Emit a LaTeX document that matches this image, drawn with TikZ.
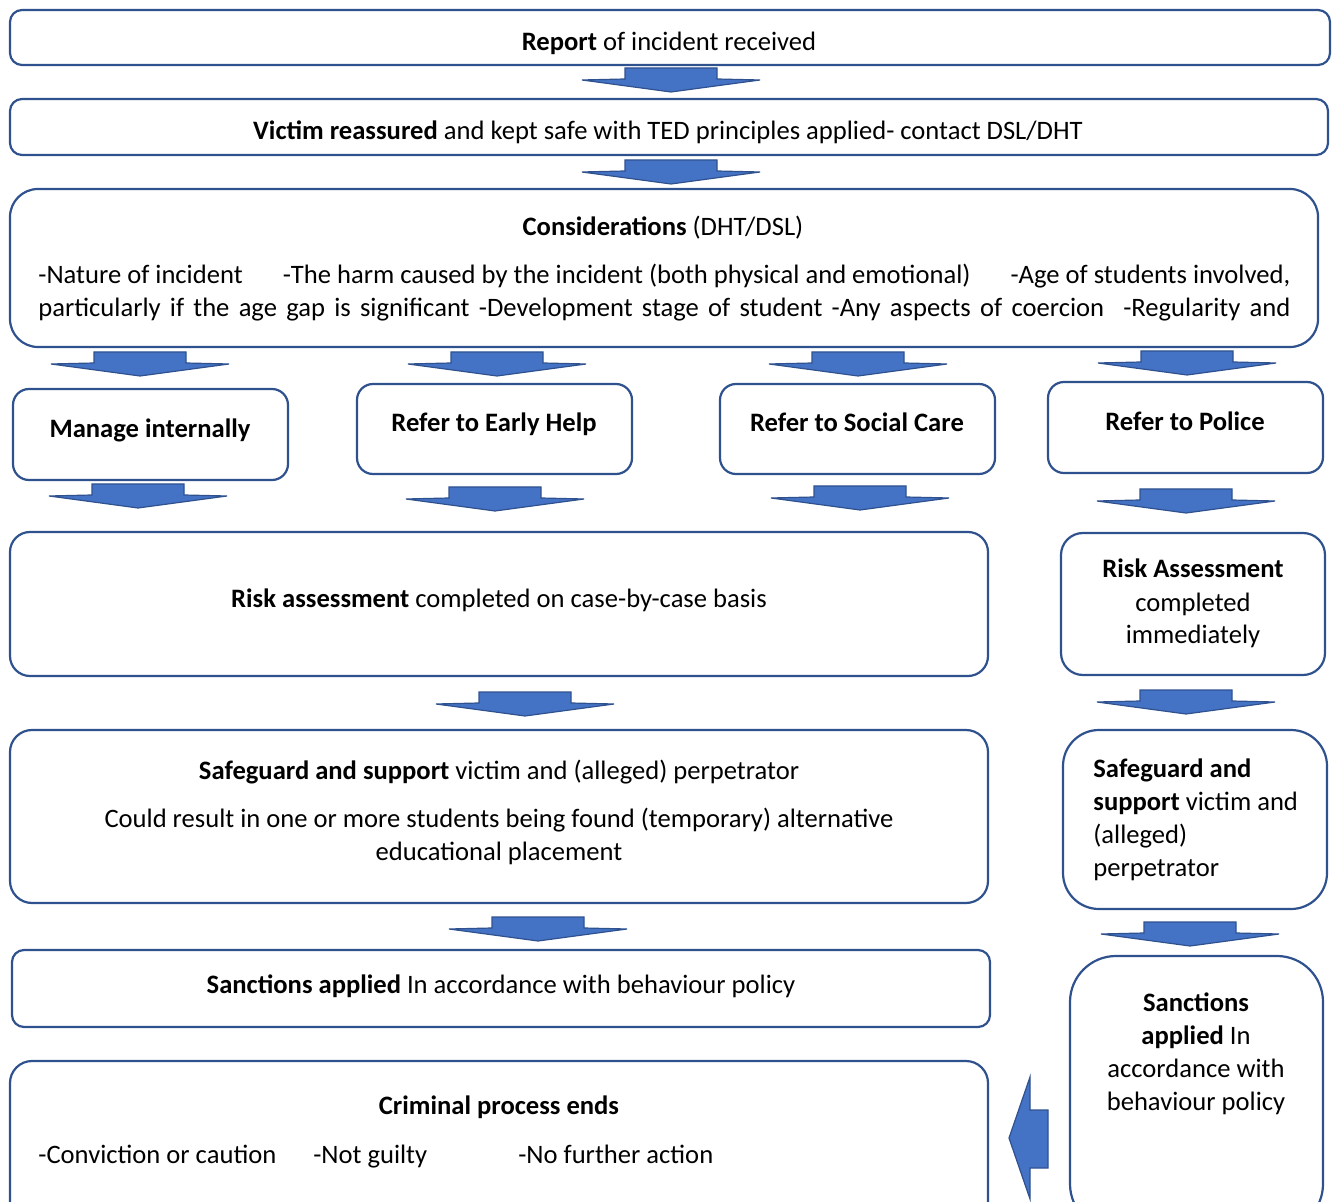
\documentclass[tikz,border=0pt]{standalone}
\usepackage{fontspec}
\setmainfont{Carlito}
\usepackage{xcolor}
\usetikzlibrary{fit}

\definecolor{boxline}{HTML}{2F528F}
\definecolor{arrowfill}{HTML}{4472C4}

\tikzset{
  box/.style={draw=boxline, line width=1.1pt, fill=white, inner sep=0pt},
  txt/.style={inner sep=0pt, font=\fontsize{13.3pt}{16.5pt}\selectfont},
  blockarrow/.style={draw=boxline, fill=arrowfill, line width=0.6pt, line join=miter}
}

% block arrow pointing down: centre x, top y (in pixels)
\newcommand{\blockdown}[2]{%
  \draw[blockarrow] ({#1-46},#2) -- ({#1+46},#2) -- ({#1+46},{#2+11}) -- ({#1+89},{#2+12})
    -- (#1,{#2+24}) -- ({#1-89},{#2+12}) -- ({#1-46},{#2+11}) -- cycle;}

\begin{document}
\begin{tikzpicture}[x=0.5pt,y=-0.5pt]
\useasboundingbox (0,0) rectangle (1332,1202);
\clip (0,0) rectangle (1332,1202);

% boxes
\node[box, rounded corners=6pt, fit={(10,10) (1330,65)}] (report) {};
\node[box, rounded corners=6pt, fit={(10,99) (1328,155)}] (victim) {};
\node[box, rounded corners=14pt, fit={(10,189) (1318,347)}] (cons) {};
\node[box, rounded corners=8pt, fit={(13,389) (288,480)}] (manage) {};
\node[box, rounded corners=8pt, fit={(357,384) (632,474)}] (earlyhelp) {};
\node[box, rounded corners=8pt, fit={(720,384) (995,474)}] (socialcare) {};
\node[box, rounded corners=8pt, fit={(1048,382) (1323,473)}] (police) {};
\node[box, rounded corners=10pt, fit={(10,532) (988,676)}] (risk) {};
\node[box, rounded corners=11pt, fit={(1061,533) (1325,675)}] (riskpol) {};
\node[box, rounded corners=11pt, fit={(10,730) (988,903)}] (safe) {};
\node[box, rounded corners=18pt, fit={(1063,730) (1327,909)}] (safepol) {};
\node[box, rounded corners=6pt, fit={(12,950) (990,1027)}] (sanc) {};
\node[box, rounded corners=23pt, fit={(1070,956) (1323,1230)}] (sancpol) {};
\node[box, rounded corners=11pt, fit={(10,1061) (988,1230)}] (crim) {};

% texts (multi-line nodes sit on their last baseline)
\node[txt, anchor=base] (reportt) at (669,51) {\textbf{Report} of incident received};
\node[txt, anchor=base] (victimt) at (668,140) {\textbf{Victim reassured} and kept safe with TED principles applied- contact DSL/DHT};
\node[txt, anchor=base] (const) at (663,236) {\textbf{Considerations} (DHT/DSL)};
\node[txt, anchor=base west] (consa) at (38,284) {\makebox[626pt][s]{-Nature of incident\hfill-The harm caused by the incident (both physical and emotional)\hfill-Age of students involved,}};
\node[txt, anchor=base west] (consb) at (38,317) {\makebox[626pt][s]{particularly if the age gap is significant -Development stage of student -Any aspects of coercion\hspace{5pt} -Regularity and}};

\node[txt, anchor=base] (managet) at (150,438) {\textbf{Manage internally}};
\node[txt, anchor=base] (earlyhelpt) at (494,432) {\textbf{Refer to Early Help}};
\node[txt, anchor=base] (socialcaret) at (857,432) {\textbf{Refer to Social Care}};
\node[txt, anchor=base] (policet) at (1185,431) {\textbf{Refer to Police}};

\node[txt, anchor=base] (riskt) at (499,608) {\textbf{Risk assessment} completed on case-by-case basis};
\node[txt, anchor=base, align=center] (riskpolt) at (1193,644) {\textbf{Risk Assessment}\\completed\\immediately};

\node[txt, anchor=base] (safet) at (499,779) {\textbf{Safeguard and support} victim and (alleged) perpetrator};
\node[txt, anchor=base, align=center] (safet2) at (499,860) {Could result in one or more students being found (temporary) alternative\\educational placement};
\node[txt, anchor=base west, align=left] (safepolt) at (1093,876) {\textbf{Safeguard and}\\\textbf{support} victim and\\(alleged)\\perpetrator};

\node[txt, anchor=base] (sanct) at (501,993) {\textbf{Sanctions applied} In accordance with behaviour policy};
\node[txt, anchor=base, align=center] (sancpolt) at (1196,1110) {\textbf{Sanctions}\\\textbf{applied} In\\accordance with\\behaviour policy};

\node[txt, anchor=base] (crimt) at (499,1114) {\textbf{Criminal process ends}};
\node[txt, anchor=base west] (crimt2) at (38,1163) {-Conviction or caution\hspace{18.5pt}-Not guilty\hspace{45.5pt}-No further action};

% arrows
\blockdown{671}{68}
\blockdown{671}{160}
\blockdown{140}{352}
\blockdown{497}{352}
\blockdown{858}{352}
\blockdown{1187}{351}
\blockdown{138}{484}
\blockdown{495}{487}
\blockdown{860}{486}
\blockdown{1186}{489}
\blockdown{525}{692}
\blockdown{1186}{690}
\blockdown{538}{917}
\blockdown{1190}{922}
\draw[blockarrow] (1048,1110) -- (1030,1110) -- (1030,1077) -- (1009,1138) -- (1030,1199)
  -- (1030,1168) -- (1048,1168) -- cycle;
\end{tikzpicture}
\end{document}
